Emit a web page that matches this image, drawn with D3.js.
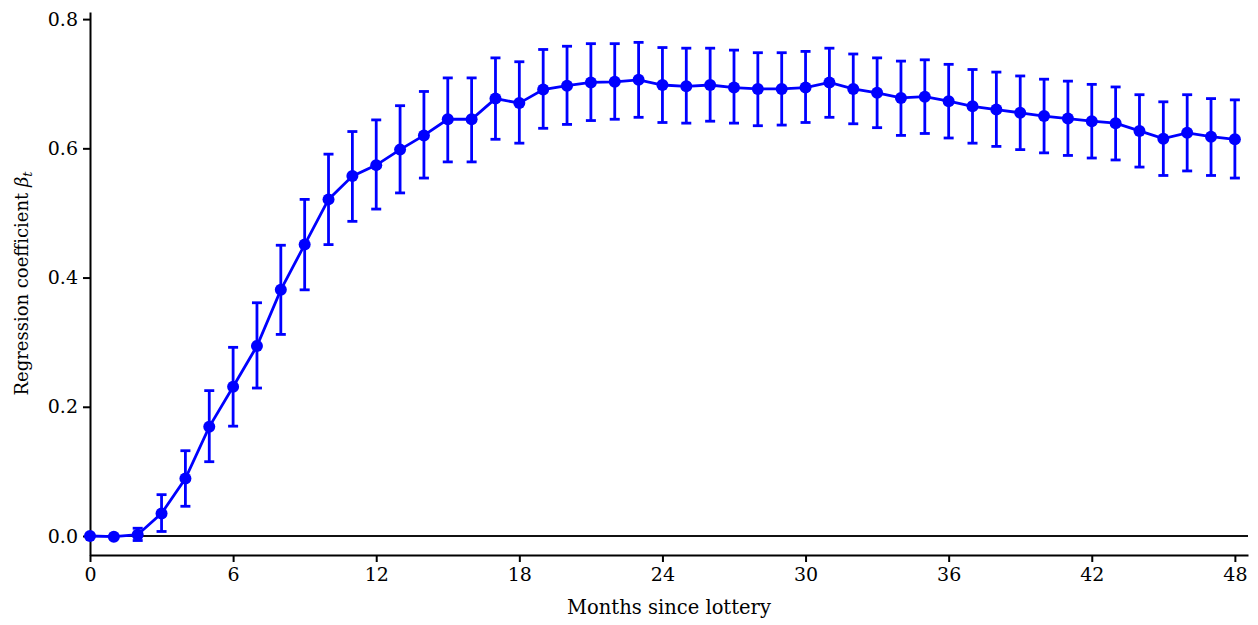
<!DOCTYPE html>
<html>
<head>
<meta charset="utf-8">
<script src="https://cdn.jsdelivr.net/npm/d3@7"></script>
<style>
  body { margin: 0; background: #fff; }
  svg text { font-family: "DejaVu Serif", serif; fill: #000; }
</style>
</head>
<body>
<div id="chart"></div>
<script>
// months since lottery
const months = d3.range(0, 49);

// regression coefficient per month
const beta = [
  0.000, -0.001, 0.002, 0.035, 0.089, 0.169, 0.231, 0.294, 0.381, 0.451,
  0.521, 0.557, 0.574, 0.598, 0.620, 0.645, 0.645, 0.677, 0.670, 0.691,
  0.697, 0.702, 0.703, 0.706, 0.698, 0.696, 0.698, 0.694, 0.692, 0.692,
  0.694, 0.702, 0.692, 0.686, 0.678, 0.680, 0.673, 0.665, 0.660, 0.655,
  0.650, 0.646, 0.642, 0.639, 0.627, 0.615, 0.624, 0.618, 0.614
];

// confidence interval bounds
const lower = [
  0.000, -0.001, -0.007, 0.007, 0.046, 0.115, 0.170, 0.229, 0.312, 0.381,
  0.451, 0.487, 0.506, 0.531, 0.554, 0.579, 0.579, 0.614, 0.608, 0.631,
  0.637, 0.643, 0.645, 0.648, 0.640, 0.639, 0.642, 0.639, 0.635, 0.636,
  0.640, 0.648, 0.638, 0.632, 0.620, 0.623, 0.616, 0.608, 0.603, 0.598,
  0.593, 0.589, 0.585, 0.582, 0.571, 0.558, 0.565, 0.558, 0.554
];
const upper = [
  0.000, -0.001, 0.012, 0.064, 0.132, 0.225, 0.292, 0.361, 0.450, 0.521,
  0.591, 0.626, 0.644, 0.666, 0.688, 0.709, 0.709, 0.740, 0.734, 0.753,
  0.758, 0.762, 0.762, 0.764, 0.756, 0.755, 0.755, 0.752, 0.748, 0.748,
  0.750, 0.755, 0.746, 0.740, 0.735, 0.737, 0.730, 0.722, 0.718, 0.712,
  0.707, 0.704, 0.699, 0.695, 0.683, 0.672, 0.683, 0.677, 0.675
];

const xTicks = [0, 6, 12, 18, 24, 30, 36, 42, 48];
const yTicks = [0, 0.2, 0.4, 0.6, 0.8];

const width = 1258, height = 625;
const margin = { top: 12, right: 10, bottom: 70, left: 90 };
const blue = '#0000ff';

const data = months.map((m, i) => ({ m, b: beta[i], lo: lower[i], hi: upper[i] }));

const svg = d3.select('#chart').append('svg')
  .attr('width', width)
  .attr('height', height);

const x = d3.scaleLinear()
  .domain([0, 48.55])
  .range([margin.left, width - margin.right]);

const y = d3.scaleLinear()
  .domain([-0.0294, 0.811])
  .range([height - margin.bottom, margin.top]);

// axes
const xAxis = svg.append('g')
  .attr('transform', `translate(0,${height - margin.bottom})`)
  .call(d3.axisBottom(x).tickValues(xTicks).tickSize(7).tickSizeOuter(0).tickPadding(6));

const yAxis = svg.append('g')
  .attr('transform', `translate(${margin.left},0)`)
  .call(d3.axisLeft(y).tickValues(yTicks).tickFormat(d3.format('.1f')).tickSize(7).tickSizeOuter(0).tickPadding(5));

[xAxis, yAxis].forEach(a => {
  a.selectAll('path, line').attr('stroke', '#000').attr('stroke-width', 2);
  a.selectAll('text').style('font-size', '19px').attr('fill', '#000');
});

// zero line
svg.append('line')
  .attr('x1', x(0)).attr('x2', width - margin.right)
  .attr('y1', y(0)).attr('y2', y(0))
  .attr('stroke', '#111').attr('stroke-width', 2);

// error bars
const eb = svg.append('g')
  .attr('stroke', blue)
  .attr('stroke-width', 2.8);

const withBars = data.filter(d => d.hi > d.lo);

eb.selectAll('line.v').data(withBars).join('line')
  .attr('class', 'v')
  .attr('x1', d => x(d.m)).attr('x2', d => x(d.m))
  .attr('y1', d => y(d.lo)).attr('y2', d => y(d.hi));

eb.selectAll('line.top').data(withBars).join('line')
  .attr('class', 'top')
  .attr('x1', d => x(d.m) - 5).attr('x2', d => x(d.m) + 5)
  .attr('y1', d => y(d.hi)).attr('y2', d => y(d.hi));

eb.selectAll('line.bot').data(withBars).join('line')
  .attr('class', 'bot')
  .attr('x1', d => x(d.m) - 5).attr('x2', d => x(d.m) + 5)
  .attr('y1', d => y(d.lo)).attr('y2', d => y(d.lo));

// line
svg.append('path')
  .datum(data)
  .attr('fill', 'none')
  .attr('stroke', blue)
  .attr('stroke-width', 2.8)
  .attr('d', d3.line().x(d => x(d.m)).y(d => y(d.b)));

// markers
svg.append('g').selectAll('circle').data(data).join('circle')
  .attr('cx', d => x(d.m))
  .attr('cy', d => y(d.b))
  .attr('r', 6)
  .attr('fill', blue);

// axis labels
svg.append('text')
  .attr('x', (margin.left + width - margin.right) / 2)
  .attr('y', 614)
  .attr('text-anchor', 'middle')
  .style('font-size', '19.5px')
  .text('Months since lottery');

const yl = svg.append('text')
  .attr('transform', `translate(28,${(margin.top + height - margin.bottom) / 2}) rotate(-90)`)
  .attr('text-anchor', 'middle')
  .style('font-size', '18px');
yl.append('tspan').text('Regression coefficient ');
yl.append('tspan').style('font-style', 'italic').text('β');
yl.append('tspan').style('font-style', 'italic').style('font-size', '13px').attr('dy', 4).text('t');
</script>
</body>
</html>
